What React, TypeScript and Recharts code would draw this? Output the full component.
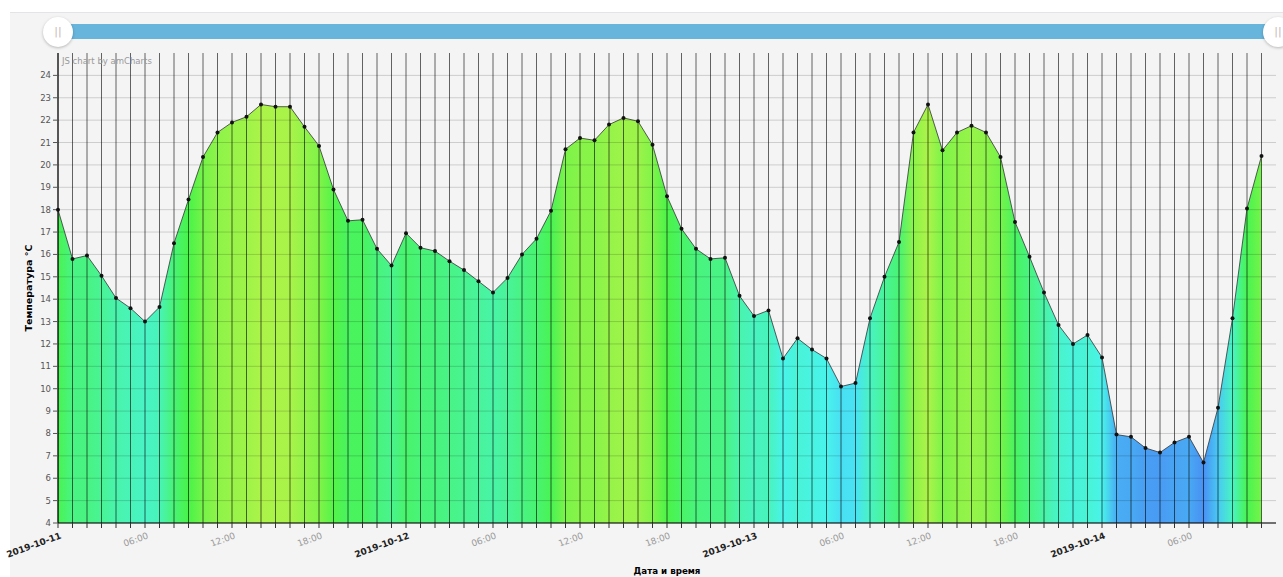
import React from 'react';
import { ComposedChart, Area, Line, XAxis, YAxis, ReferenceLine } from 'recharts';

// hourly temperature readings, one array per day
const temps11 = [18.0, 15.8, 15.95, 15.05, 14.05, 13.6, 13.0, 13.65, 16.5, 18.45, 20.35, 21.45, 21.9, 22.15, 22.7, 22.6, 22.6, 21.7, 20.85, 18.9, 17.5, 17.55, 16.25, 15.5];
const temps12 = [16.95, 16.3, 16.15, 15.7, 15.3, 14.8, 14.3, 14.95, 16.0, 16.7, 17.95, 20.7, 21.2, 21.1, 21.8, 22.1, 21.95, 20.9, 18.6, 17.15, 16.25, 15.8, 15.85, 14.15];
const temps13 = [13.25, 13.5, 11.35, 12.25, 11.75, 11.35, 10.1, 10.25, 13.15, 15.0, 16.55, 21.45, 22.7, 20.65, 21.45, 21.75, 21.45, 20.35, 17.45, 15.9, 14.3, 12.85, 12.0, 12.4];
const temps14 = [11.4, 7.95, 7.85, 7.35, 7.15, 7.6, 7.85, 6.7, 9.15, 13.15, 18.05, 20.4];

const dayLabels = ['2019-10-11', '2019-10-12', '2019-10-13', '2019-10-14'];
const timeLabels = ['06:00', '12:00', '18:00'];
const yTicks = [4, 5, 6, 7, 8, 9, 10, 11, 12, 13, 14, 15, 16, 17, 18, 19, 20, 21, 22, 23, 24];

const temps = [...temps11, ...temps12, ...temps13, ...temps14];
const data = temps.map((t, hour) => ({ hour, t }));
const hours = data.map((d) => d.hour);

const FONT = '"DejaVu Sans", Verdana, sans-serif';

// colour of the fill follows the temperature (blue = cold, yellow-green = warm)
function heatColor(t: number) {
  const hue = 215 - (t - 6.7) * 8.1;
  return `hsl(${hue.toFixed(0)}, 88%, 62%)`;
}

const HourTick = (props: any) => {
  const { x, y, payload } = props;
  const h = payload?.value ?? 0;
  if (h % 6 !== 0) return <g />;
  const isDay = h % 24 === 0;
  const text = isDay ? dayLabels[h / 24] : timeLabels[(h % 24) / 6 - 1];
  const tx = x + 4;
  const ty = y + 8;
  return (
    <g transform={`translate(${tx}, ${ty}) rotate(-20)`}>
      <text
        x={0}
        y={0}
        textAnchor="end"
        fontSize={9}
        fontFamily={FONT}
        fontWeight={isDay ? 700 : 400}
        fill={isDay ? '#222' : '#999'}
      >
        {text}
      </text>
    </g>
  );
};

const Grip = ({ left }: { left: number }) => (
  <div
    style={{
      position: 'absolute',
      left: left - 15,
      top: 17,
      width: 30,
      height: 30,
      borderRadius: '50%',
      background: '#fff',
      boxShadow: '0 1px 3px rgba(0,0,0,0.25)',
      color: '#c9b8b8',
      fontSize: 11,
      fontFamily: FONT,
      lineHeight: '30px',
      textAlign: 'center',
    }}
  >
    ||
  </div>
);

export default function App() {
  return (
    <div style={{ position: 'absolute', left: 0, top: 0, width: 1283, height: 577, background: '#fff', overflow: 'hidden' }}>
      <div style={{ position: 'absolute', left: 10, top: 12, right: 0, bottom: 0, background: '#f4f4f4', borderTop: '1px solid #e4e4e8' }} />
      {/* scrollbar */}
      <div style={{ position: 'absolute', left: 58, top: 24, width: 1219, height: 15, background: '#67b5dc' }} />
      <Grip left={58} />
      <Grip left={1278} />
      <div style={{ position: 'absolute', left: 0, top: 0 }}>
        <ComposedChart width={1283} height={577} data={data} margin={{ top: 53, right: 7, left: 0, bottom: 0 }}>
          <defs>
            <linearGradient id="heat" x1="0" y1="0" x2="1" y2="0">
              {temps.map((t, i) => (
                <stop key={i} offset={i / (temps.length - 1)} stopColor={heatColor(t)} />
              ))}
            </linearGradient>
          </defs>
          <XAxis
            dataKey="hour"
            type="number"
            domain={[0, 84]}
            ticks={hours}
            interval={0}
            height={54}
            tickSize={5}
            tick={HourTick}
            tickLine={{ stroke: '#333' }}
            axisLine={{ stroke: '#000' }}
            label={(props: any) => {
              const vb = props.viewBox || {};
              return (
                <text x={vb.x + vb.width / 2} y={574} textAnchor="middle" fontSize={8.7} fontWeight={700} fontFamily={FONT} fill="#000">
                  Дата и время
                </text>
              );
            }}
          />
          <YAxis
            type="number"
            domain={[4, 25]}
            ticks={yTicks}
            interval={0}
            width={58}
            tickSize={5}
            tick={{ fontSize: 8.5, fill: '#555', fontFamily: FONT }}
            tickLine={{ stroke: '#555' }}
            axisLine={{ stroke: '#000' }}
            label={(props: any) => {
              const vb = props.viewBox || {};
              const cy = vb.y + vb.height / 2;
              return (
                <text x={32} y={cy} transform={`rotate(-90, 32, ${cy})`} textAnchor="middle" fontSize={9.5} fontWeight={700} fontFamily={FONT} fill="#000">
                  Температура °С
                </text>
              );
            }}
          />
          <Area
            type="linear"
            dataKey="t"
            stroke="none"
            fill="url(#heat)"
            fillOpacity={1}
            isAnimationActive={false}
            dot={false}
            activeDot={false}
          />
          {yTicks.map((v) => (
            <ReferenceLine key={`y${v}`} y={v} stroke="#000" strokeOpacity={0.16} />
          ))}
          {hours.map((h) => (
            <ReferenceLine key={`x${h}`} x={h} stroke="#000" strokeOpacity={0.6} />
          ))}
          <Line
            type="linear"
            dataKey="t"
            stroke="#333"
            strokeOpacity={0.8}
            strokeWidth={1}
            dot={{ r: 2, fill: '#111', stroke: 'none' }}
            activeDot={false}
            isAnimationActive={false}
          />
        </ComposedChart>
      </div>
      <div style={{ position: 'absolute', left: 62, top: 56, fontSize: 8.5, color: '#999', fontFamily: FONT }}>
        JS chart by amCharts
      </div>
    </div>
  );
}
